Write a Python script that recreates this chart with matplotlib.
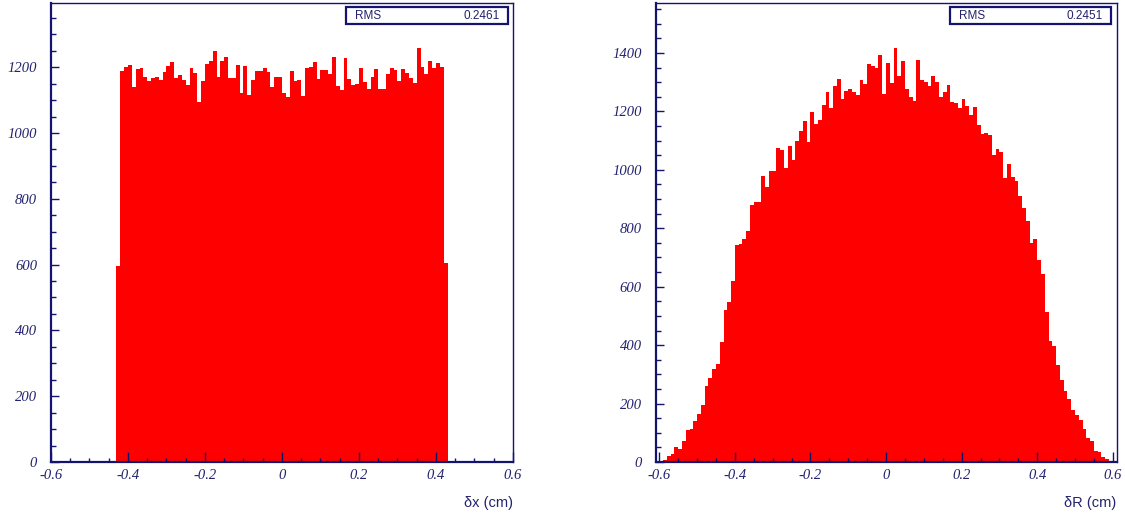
import numpy as np
import matplotlib
matplotlib.use("Agg")
import matplotlib.pyplot as plt
from matplotlib.patches import Rectangle
from matplotlib.ticker import MultipleLocator

# histogram contents (bin width 0.01 cm)
bin_w = 0.01

dx_start = -0.43
dx_counts = [597,
             1189, 1201, 1206, 1140, 1195, 1197, 1171, 1159, 1166, 1170,
             1161, 1185, 1203, 1215, 1168, 1176, 1161, 1145, 1197, 1181,
             1095, 1157, 1210, 1218, 1249, 1169, 1219, 1231, 1166, 1168,
             1207, 1121, 1203, 1114, 1162, 1189, 1189, 1197, 1186, 1139,
             1169, 1171, 1123, 1110, 1188, 1159, 1160, 1112, 1199, 1202,
             1217, 1163, 1191, 1191, 1180, 1230, 1144, 1130, 1228, 1163,
             1147, 1150, 1198, 1156, 1133, 1169, 1193, 1135, 1134, 1180,
             1196, 1190, 1158, 1195, 1183, 1168, 1151, 1257, 1200, 1178,
             1218, 1196, 1212, 1202,
             605]

dr_start = -0.60
dr_counts = [2, 7, 21, 26, 50, 43, 72, 110, 113, 141,
             164, 194, 261, 288, 318, 335, 410, 519, 549, 620,
             744, 747, 763, 790, 880, 891, 891, 979, 941, 995,
             995, 1076, 1068, 1008, 1082, 1032, 1100, 1133, 1166, 1097,
             1197, 1158, 1172, 1222, 1268, 1213, 1288, 1310, 1244, 1271,
             1278, 1267, 1257, 1308, 1294, 1361, 1357, 1348, 1393, 1260,
             1364, 1297, 1416, 1321, 1373, 1276, 1250, 1235, 1377, 1308,
             1302, 1288, 1321, 1300, 1248, 1268, 1290, 1231, 1228, 1211,
             1243, 1219, 1189, 1216, 1153, 1123, 1126, 1119, 1050, 1073,
             1060, 973, 1020, 977, 962, 910, 871, 824, 750, 765,
             692, 642, 512, 414, 397, 331, 280, 244, 214, 177,
             160, 145, 114, 83, 72, 38, 33, 17, 11, 2]

rms_text = ["0.2461", "0.2451"]
x_titles = ["\u03b4x (cm)", "\u03b4R (cm)"]
x_ranges = [(-0.6, 0.6), (-0.61, 0.61)]
y_tops = [1395, 1571]

navy = "#14146e"
label_col = "#22226e"

fig = plt.figure(figsize=(11.25, 5.19), dpi=100)
axes = [fig.add_axes([0.0453, 0.1098, 0.4107, 0.8844]),
        fig.add_axes([0.5827, 0.1098, 0.4098, 0.8844])]

hists = [(dx_start, dx_counts), (dr_start, dr_counts)]

for i, ax in enumerate(axes):
    start, counts = hists[i]
    edges = start + bin_w * np.arange(len(counts) + 1)
    ax.stairs(counts, edges, fill=True, color="#ff0000", linewidth=0)

    ax.set_xlim(*x_ranges[i])
    ax.set_ylim(0, y_tops[i])

    for side in ["top", "right"]:
        ax.spines[side].set_color(navy)
        ax.spines[side].set_linewidth(1.0)
    for side in ["left", "bottom"]:
        ax.spines[side].set_color(navy)
        ax.spines[side].set_linewidth(1.6)

    ax.xaxis.set_major_locator(MultipleLocator(0.2))
    ax.xaxis.set_minor_locator(MultipleLocator(0.05))
    ax.yaxis.set_major_locator(MultipleLocator(200))
    ax.yaxis.set_minor_locator(MultipleLocator(50))
    ax.tick_params(which="both", direction="in", color=navy, width=1.0,
                   top=False, right=False)
    ax.tick_params(axis="x", which="major", length=7, pad=5)
    ax.tick_params(axis="x", which="minor", length=3)
    ax.tick_params(axis="y", which="major", length=6, pad=10)
    ax.tick_params(axis="y", which="minor", length=3.3)

    ax.xaxis.set_major_formatter(lambda v, p: "0" if abs(v) < 1e-9 else f"{v:g}")
    for lbl in ax.get_xticklabels() + ax.get_yticklabels():
        lbl.set_family("Liberation Serif")
        lbl.set_style("italic")
        lbl.set_fontsize(10.5)
        lbl.set_color(label_col)

    ax.text(1.0, -0.0895, x_titles[i], transform=ax.transAxes,
            ha="right", va="center", fontsize=10.5,
            family="Liberation Sans", color=label_col)

    # stats box
    x0, x1 = 0.638, 0.989
    y0, y1 = 0.954, 0.991
    ax.add_patch(Rectangle((x0, y0), x1 - x0, y1 - y0, transform=ax.transAxes,
                           facecolor="white", edgecolor=navy, linewidth=1.6,
                           zorder=5, clip_on=False))
    ax.text(x0 + 0.02, (y0 + y1) / 2, "RMS", transform=ax.transAxes,
            ha="left", va="center", fontsize=8.5, family="Liberation Sans",
            color=label_col, zorder=6)
    ax.text(x1 - 0.018, (y0 + y1) / 2, rms_text[i], transform=ax.transAxes,
            ha="right", va="center", fontsize=8.5, family="Liberation Sans",
            color=label_col, zorder=6)

fig.savefig("out.png", dpi=100)
